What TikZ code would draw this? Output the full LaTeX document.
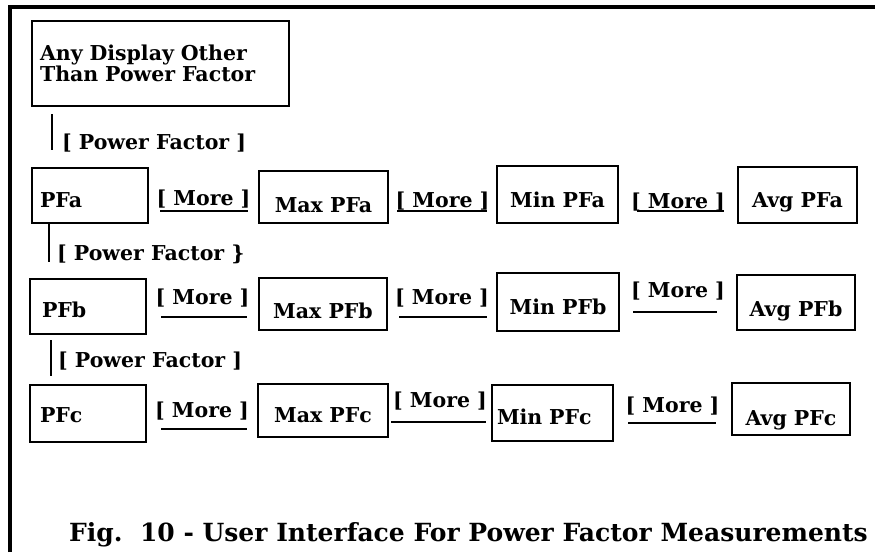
\documentclass[tikz,border=0pt]{standalone}
\usepackage{fontspec}
\setmainfont{DejaVu Serif}
\usetikzlibrary{positioning}

\tikzset{
  pfbox/.style={draw, line width=2pt, inner sep=0pt, font=\bfseries\fontsize{20.5}{21}\selectfont},
  pft/.style={text height=#1, text depth=4pt},
  link/.style={line width=2.2pt},
  morelbl/.style={inner sep=0pt, anchor=base, font=\bfseries\fontsize{20.5}{21}\selectfont},
  pflbl/.style={inner sep=0pt, font=\bfseries\fontsize{20.5}{21}\selectfont}
}

\begin{document}
\begin{tikzpicture}[x=1pt, y=-1pt]
  \useasboundingbox (0,0) rectangle (875,552);
  % frame, open at right and bottom
  \draw[line width=3.2pt] (10,552) -- (10,7) -- (875,7);

  \node[pfbox, minimum width=257pt, minimum height=85pt, text width=241pt, align=left] (other) at (160.5,63.5) {Any Display Other\\Than Power Factor};

  % row a
  \node[pfbox, pft=28.9pt, minimum width=116pt, minimum height=55pt, text width=100pt, align=left] (pfa) at (90,195.5) {PFa};
  \node[pfbox, pft=35.9pt, minimum width=129pt, minimum height=52pt] (maxa) at (323.5,197) {Max PFa};
  \node[pfbox, pft=30.9pt, minimum width=121pt, minimum height=57pt] (mina) at (557.5,194.5) {Min PFa};
  \node[pfbox, pft=28.9pt, minimum width=119pt, minimum height=56pt] (avga) at (797.5,195) {Avg PFa};

  % row b
  \node[pfbox, pft=26.9pt, minimum width=116pt, minimum height=55pt, text width=92pt, align=left] (pfb) at (88,306.5) {PFb};
  \node[pfbox, pft=33.9pt, minimum width=128pt, minimum height=52pt] (maxb) at (323,304) {Max PFb};
  \node[pfbox, pft=29.9pt, minimum width=122pt, minimum height=58pt] (minb) at (558,302) {Min PFb};
  \node[pfbox, pft=32.9pt, minimum width=118pt, minimum height=55pt] (avgb) at (796,302.5) {Avg PFb};

  % row c
  \node[pfbox, pft=22.9pt, minimum width=116pt, minimum height=57pt, text width=96pt, align=left] (pfc) at (88,413.5) {PFc};
  \node[pfbox, pft=27.9pt, minimum width=130pt, minimum height=53pt] (maxc) at (323,410.5) {Max PFc};
  \node[pfbox, pft=27.9pt, minimum width=121pt, minimum height=56pt, text width=111pt, align=left] (minc) at (552.5,413) {Min PFc};
  \node[pfbox, pft=36.9pt, minimum width=118pt, minimum height=52pt] (avgc) at (791,409) {Avg PFc};

  % power factor steps
  \coordinate (s1) at ([xshift=21pt]other.south west);
  \draw[link, shorten <=7pt, shorten >=17pt] (s1) -- (s1 |- pfa.north)
    node[pflbl, right=9pt, pos=0.6] (pf1) {[ Power Factor ]};
  \coordinate (s2) at ([xshift=18pt]pfa.south west);
  \draw[link, shorten >=16pt] (s2) -- (s2 |- pfb.north)
    node[pflbl, right=7pt, pos=0.57] (pf2) {[ Power Factor \}};
  \coordinate (s3) at ([xshift=22pt]pfb.south west);
  \draw[link, shorten <=5pt, shorten >=8pt] (s3) -- (s3 |- pfc.north)
    node[pflbl, right=6pt, pos=0.53] (pf3) {[ Power Factor ]};

  % more steps
  \draw[link, shorten <=11pt, shorten >=10pt] (pfa.east |- 0,211) -- node[morelbl, yshift=6pt] {[ More ]} (maxa.west |- 0,211);
  \draw[link, shorten <=8pt, shorten >=9pt] (maxa.east |- 0,211) -- node[morelbl, yshift=4pt] {[ More ]} (mina.west |- 0,211);
  \draw[link, shorten <=18pt, shorten >=13pt] (mina.east |- 0,211) -- node[morelbl, yshift=3pt] {[ More ]} (avga.west |- 0,211);

  \draw[link, shorten <=14pt, shorten >=11pt] (pfb.east |- 0,317) -- node[morelbl, yshift=13pt] {[ More ]} (maxb.west |- 0,317);
  \draw[link, shorten <=11pt, shorten >=9pt] (maxb.east |- 0,317) -- node[morelbl, yshift=13pt] {[ More ]} (minb.west |- 0,317);
  \draw[link, shorten <=13pt, shorten >=19pt] (minb.east |- 0,312) -- node[morelbl, yshift=15pt] {[ More ]} (avgb.west |- 0,312);

  \draw[link, shorten <=14pt, shorten >=10pt] (pfc.east |- 0,429) -- node[morelbl, yshift=12pt] {[ More ]} (maxc.west |- 0,429);
  \draw[link, shorten <=2pt, shorten >=5pt] (maxc.east |- 0,422) -- node[morelbl, yshift=15pt] {[ More ]} (minc.west |- 0,422);
  \draw[link, shorten <=14pt, shorten >=15pt] (minc.east |- 0,423) -- node[morelbl, yshift=11pt] {[ More ]} (avgc.west |- 0,423);

  \node[anchor=base west, inner sep=0pt, font=\bfseries\fontsize{25}{27}\selectfont] (caption) at (69,541) {Fig.\ \ 10 - User Interface For Power Factor Measurements};
\end{tikzpicture}
\end{document}
